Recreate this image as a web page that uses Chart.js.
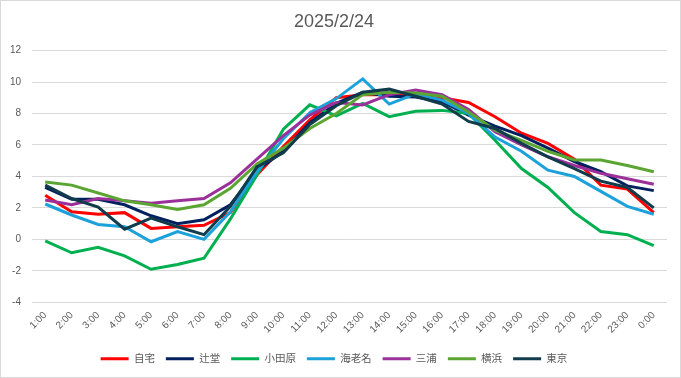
<!DOCTYPE html>
<html>
<head>
<meta charset="utf-8">
<script src="https://cdn.jsdelivr.net/npm/chart.js@4/dist/chart.umd.min.js"></script>
<style>
  html, body { margin: 0; padding: 0; background: #fff; }
  #wrap { width: 681px; height: 378px; box-sizing: border-box; border: 1px solid #d9d9d9; position: relative; }
  canvas { display: block; }
</style>
</head>
<body>
<div id="wrap"><canvas id="c"></canvas></div>
<script>
const titleText = "2025/2/24";
const hours = ["1:00","2:00","3:00","4:00","5:00","6:00","7:00","8:00","9:00","10:00","11:00","12:00","13:00","14:00","15:00","16:00","17:00","18:00","19:00","20:00","21:00","22:00","23:00","0:00"];
const seriesNames = ["自宅","辻堂","小田原","海老名","三浦","横浜","東京"];
const jitaku   = [2.8, 1.75, 1.6, 1.7, 0.7, 0.8, 0.9, 1.7, 4.1, 5.9, 7.6, 9.0, 9.2, 9.2, 9.2, 9.0, 8.7, 7.8, 6.75, 6.1, 5.1, 3.45, 3.2, 1.7];
const tsujido  = [3.3, 2.55, 2.55, 2.2, 1.5, 1.0, 1.25, 2.2, 4.4, 5.6, 7.4, 8.65, 9.35, 9.1, 9.05, 8.75, 7.9, 7.2, 6.6, 5.8, 4.95, 4.3, 3.4, 3.1];
const odawara  = [-0.1, -0.85, -0.5, -1.05, -1.9, -1.6, -1.2, 1.3, 4.1, 7.0, 8.55, 7.85, 8.65, 7.8, 8.15, 8.2, 8.0, 6.3, 4.5, 3.3, 1.7, 0.5, 0.3, -0.4];
const ebina    = [2.25, 1.55, 0.95, 0.8, -0.15, 0.5, 0.0, 1.75, 4.3, 6.4, 8.05, 8.95, 10.2, 8.6, 9.25, 8.85, 8.0, 6.5, 5.6, 4.4, 4.0, 3.05, 2.1, 1.6];
const miura    = [2.5, 2.2, 2.6, 2.45, 2.3, 2.45, 2.6, 3.6, 5.1, 6.6, 7.9, 8.7, 8.55, 9.2, 9.5, 9.2, 8.25, 6.85, 6.0, 5.25, 4.7, 4.2, 3.85, 3.5];
const yokohama = [3.65, 3.45, 2.95, 2.45, 2.2, 1.9, 2.2, 3.25, 4.8, 5.8, 7.05, 8.0, 9.2, 9.35, 9.3, 9.1, 8.1, 6.95, 6.3, 5.6, 5.05, 5.05, 4.7, 4.3];
const tokyo    = [3.45, 2.6, 2.05, 0.65, 1.35, 0.8, 0.3, 2.1, 4.6, 5.5, 7.3, 8.5, 9.35, 9.55, 9.1, 8.6, 7.5, 7.05, 6.1, 5.25, 4.5, 3.7, 3.3, 2.0];
const yTicks = [-4, -2, 0, 2, 4, 6, 8, 10, 12];

const seriesValues = [jitaku, tsujido, odawara, ebina, miura, yokohama, tokyo];
const colors = ["#FF0000", "#002060", "#00B050", "#1CA1DB", "#9B309B", "#5BA632", "#103C4C"];

const FONT = '"Liberation Sans", "Noto Sans CJK JP", sans-serif';
const TXT = '#595959';

const datasets = seriesNames.map((n, i) => ({
  label: n,
  data: seriesValues[i],
  borderColor: colors[i],
  backgroundColor: colors[i],
  borderWidth: 3,
  pointRadius: 0,
  pointHoverRadius: 0,
  tension: 0,
  fill: false,
  order: seriesNames.length - i
}));

new Chart(document.getElementById('c'), {
  type: 'line',
  data: { labels: hours, datasets },
  options: {
    responsive: true,
    maintainAspectRatio: false,
    animation: false,
    layout: { padding: { left: 0, right: 13, top: 0, bottom: 3 } },
    plugins: {
      title: {
        display: true,
        text: titleText,
        color: TXT,
        font: { family: FONT, size: 18, weight: 'normal' },
        padding: { top: 10, bottom: 18 }
      },
      legend: {
        position: 'bottom',
        labels: {
          color: TXT,
          font: { family: FONT, size: 10.5 },
          usePointStyle: true,
          pointStyle: 'line',
          pointStyleWidth: 28,
          padding: 11,
          sort: (a, b) => a.datasetIndex - b.datasetIndex
        }
      },
      tooltip: { enabled: false }
    },
    scales: {
      x: {
        offset: true,
        grid: { display: false, drawTicks: false },
        border: { display: false },
        ticks: {
          color: TXT,
          font: { family: FONT, size: 10 },
          autoSkip: false,
          maxRotation: 45,
          minRotation: 45,
          padding: 7
        }
      },
      y: {
        min: -4,
        max: 12,
        afterBuildTicks: (s) => { s.ticks = yTicks.map(v => ({ value: v })); },
        afterFit: (s) => { s.width = 31; },
        grid: { color: '#D9D9D9', lineWidth: 1, drawTicks: false },
        border: { display: false },
        ticks: {
          color: TXT,
          font: { family: FONT, size: 10 },
          padding: 11
        }
      }
    }
  }
});
</script>
</body>
</html>
